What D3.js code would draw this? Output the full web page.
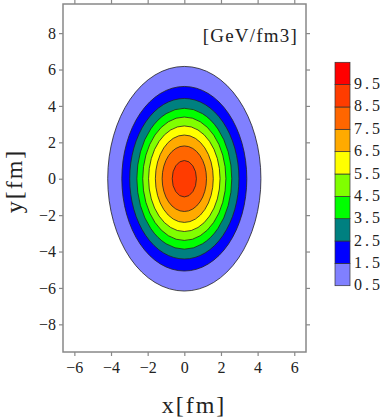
<!DOCTYPE html>
<html>
<head>
<meta charset="utf-8">
<script src="https://cdn.jsdelivr.net/npm/d3@7"></script>
<style>
  body { margin: 0; background: #fff; }
  text { font-family: "Liberation Serif", "DejaVu Serif", serif; fill: #222; }
</style>
</head>
<body>
<div id="chart"></div>
<script>
// contour levels and the semi-axes (fm) of each level's ellipse
const levels = [0.5, 1.5, 2.5, 3.5, 4.5, 5.5, 6.5, 7.5, 8.5];
const semiX = [4.18, 3.41, 2.98, 2.59, 2.27, 1.95, 1.58, 1.21, 0.66];
const semiY = [6.17, 5.07, 4.41, 3.87, 3.39, 2.90, 2.40, 1.80, 1.00];
// colorbar bands, bottom to top
const barLevels = [0.5, 1.5, 2.5, 3.5, 4.5, 5.5, 6.5, 7.5, 8.5, 9.5];
const barColors = ["#8080ff", "#0000ff", "#008080", "#00ff00", "#80ff00",
                   "#ffff00", "#ffaa00", "#ff6600", "#ff3c00", "#ff0000"];
const xTicks = [-6, -4, -2, 0, 2, 4, 6];
const yTicks = [-8, -6, -4, -2, 0, 2, 4, 6, 8];

const w = 384, h = 420;
const plotL = 63, plotR = 306, plotT = 4, plotB = 352;

const svg = d3.select("#chart").append("svg")
    .attr("width", w)
    .attr("height", h);

const x = d3.scaleLinear().domain([-6.62, 6.64]).range([plotL, plotR]);
const y = d3.scaleLinear().domain([-9.52, 9.6]).range([plotB, plotT]);

// contour ellipses, outermost first
levels.forEach((lv, i) => {
    svg.append("ellipse")
        .attr("cx", x(0))
        .attr("cy", y(0))
        .attr("rx", x(semiX[i]) - x(0))
        .attr("ry", y(0) - y(semiY[i]))
        .attr("fill", barColors[i])
        .attr("stroke", "#222")
        .attr("stroke-width", 0.8);
});

// axes, ticks outside on all four sides
function styleAxis(g) {
    g.select(".domain").remove();
    g.selectAll(".tick line").attr("stroke", "#888").attr("stroke-width", 1.2);
    g.selectAll(".tick text")
        .style("font-family", "'Liberation Serif', serif")
        .style("font-size", "16px")
        .attr("fill", "#222");
}
const fmt = d => d < 0 ? "\u2212" + Math.abs(d) : String(d);

svg.append("g").attr("transform", `translate(0,${plotB})`)
    .call(d3.axisBottom(x).tickValues(xTicks).tickFormat(fmt).tickSize(4).tickPadding(6))
    .call(styleAxis);
svg.append("g").attr("transform", `translate(0,${plotT})`)
    .call(d3.axisTop(x).tickValues(xTicks).tickFormat("").tickSize(4))
    .call(styleAxis);
svg.append("g").attr("transform", `translate(${plotL},0)`)
    .call(d3.axisLeft(y).tickValues(yTicks).tickFormat(fmt).tickSize(4).tickPadding(3))
    .call(styleAxis);
svg.append("g").attr("transform", `translate(${plotR},0)`)
    .call(d3.axisRight(y).tickValues(yTicks).tickFormat("").tickSize(4))
    .call(styleAxis);

svg.append("rect")
    .attr("x", plotL).attr("y", plotT)
    .attr("width", plotR - plotL).attr("height", plotB - plotT)
    .attr("fill", "none")
    .attr("stroke", "#888")
    .attr("stroke-width", 1.5);

// unit label
svg.append("text")
    .attr("x", 298).attr("y", 42)
    .attr("text-anchor", "end")
    .style("font-size", "19px")
    .style("letter-spacing", "1.2px")
    .text("[GeV/fm3]");

// axis titles
svg.append("text")
    .attr("x", 194).attr("y", 413)
    .attr("text-anchor", "middle")
    .style("font-size", "24px")
    .style("letter-spacing", "2px")
    .text("x[fm]");
svg.append("text")
    .attr("transform", "translate(22,181) rotate(-90)")
    .attr("text-anchor", "middle")
    .style("font-size", "24px")
    .style("letter-spacing", "2px")
    .text("y[fm]");

// colorbar
const cb = d3.scaleLinear().domain([0.5, 10.5]).range([285.7, 62.3]);
svg.selectAll(".band")
    .data(barLevels)
    .enter().append("rect")
    .attr("class", "band")
    .attr("x", 335)
    .attr("width", 15)
    .attr("y", d => cb(d + 1))
    .attr("height", d => cb(d) - cb(d + 1))
    .attr("fill", (d, i) => barColors[i])
    .attr("stroke", "#333")
    .attr("stroke-width", 0.7);

svg.selectAll(".cblabel")
    .data(barLevels)
    .enter().append("text")
    .attr("class", "cblabel")
    .attr("x", 354)
    .attr("y", d => cb(d) + 4.5)
    .style("font-size", "16px")
    .style("letter-spacing", "3px")
    .text(d => d.toFixed(1));
</script>
</body>
</html>
